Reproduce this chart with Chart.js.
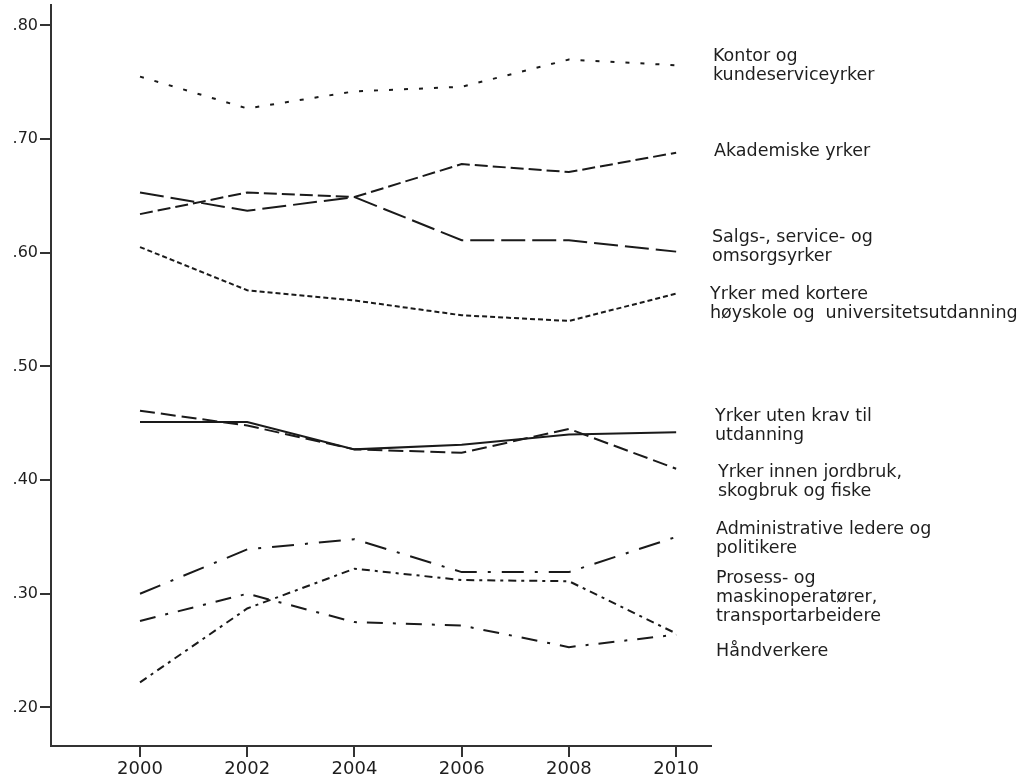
<!DOCTYPE html>
<html>
<head>
<meta charset="utf-8">
<script src="https://cdn.jsdelivr.net/npm/chart.js@4"></script>
<style>
    html, body { margin: 0; padding: 0; background: #fff; }
    #wrap { width: 1031px; height: 782px; position: relative; }
</style>
</head>
<body>
<div id="wrap"><canvas id="yrkeChart"></canvas></div>
<script>
// 数据
const years = [2000, 2002, 2004, 2006, 2008, 2010];
const xTicks = [2000, 2002, 2004, 2006, 2008, 2010];
const yTicks = [0.2, 0.3, 0.4, 0.5, 0.6, 0.7, 0.8];

const kontor = [0.755, 0.727, 0.742, 0.746, 0.770, 0.765];
const akademiske = [0.634, 0.653, 0.649, 0.678, 0.671, 0.688];
const salgs = [0.653, 0.637, 0.649, 0.611, 0.611, 0.601];
const kortere = [0.605, 0.567, 0.558, 0.545, 0.540, 0.564];
const utenKrav = [0.451, 0.451, 0.427, 0.431, 0.440, 0.442];
const jordbruk = [0.461, 0.448, 0.427, 0.424, 0.445, 0.410];
const administrative = [0.300, 0.339, 0.348, 0.319, 0.319, 0.350];
const prosess = [0.222, 0.287, 0.322, 0.312, 0.311, 0.265];
const handverkere = [0.276, 0.300, 0.275, 0.272, 0.253, 0.264];

const seriesNames = [
    ["Kontor og", "kundeserviceyrker"],
    ["Akademiske yrker"],
    ["Salgs-, service- og", "omsorgsyrker"],
    ["Yrker med kortere", "høyskole og  universitetsutdanning"],
    ["Yrker uten krav til", "utdanning"],
    ["Yrker innen jordbruk,", "skogbruk og fiske"],
    ["Administrative ledere og", "politikere"],
    ["Prosess- og", "maskinoperatører,", "transportarbeidere"],
    ["Håndverkere"]
];
const seriesValues = [kontor, akademiske, salgs, kortere, utenKrav, jordbruk, administrative, prosess, handverkere];

// 线型
const dashes = [
    [4, 11],
    [13, 5],
    [24, 7],
    [5, 3],
    [],
    [15, 6],
    [22, 11, 3, 11],
    [8, 5, 3, 5],
    [16, 10, 3, 10]
];

// 标签位置（y轴数值）
const labelAnchor = [0.764, 0.689, 0.605, 0.555, 0.448, 0.398, 0.348, 0.297, 0.249];
const labelX = [713, 714, 712, 710, 715, 718, 716, 716, 716];

const lineColor = "#1a1a1a";
const axisColor = "#333";
const textColor = "#1e1e1e";

const endLabels = {
    id: "endLabels",
    afterDatasetsDraw(chart) {
        const ctx = chart.ctx;
        const y = chart.scales.y;
        ctx.save();
        ctx.font = "17.5px 'DejaVu Sans'";
        ctx.fillStyle = textColor;
        ctx.textBaseline = "middle";
        ctx.textAlign = "left";
        const lh = 19;
        seriesNames.forEach((lines, i) => {
            const cy = y.getPixelForValue(labelAnchor[i]);
            const top = cy - (lines.length - 1) * lh / 2;
            lines.forEach((t, j) => ctx.fillText(t, labelX[i], top + j * lh));
        });
        ctx.restore();
    }
};

const datasets = seriesValues.map((vals, i) => ({
    label: seriesNames[i].join(" "),
    data: years.map((yr, k) => ({ x: yr, y: vals[k] })),
    borderColor: lineColor,
    borderWidth: 2,
    borderDash: dashes[i],
    pointRadius: 0,
    tension: 0,
    fill: false
}));

new Chart(document.getElementById("yrkeChart"), {
    type: "line",
    data: { datasets: datasets },
    options: {
        responsive: true,
        maintainAspectRatio: false,
        animation: false,
        layout: { padding: { top: 5, right: 320, left: 0, bottom: 0 } },
        plugins: {
            legend: { display: false },
            tooltip: { enabled: false }
        },
        scales: {
            x: {
                type: "linear",
                min: 1998.34,
                max: 2010.65,
                afterBuildTicks: s => { s.ticks = xTicks.map(v => ({ value: v })); },
                afterFit: s => { s.height = 36; s.paddingLeft = 0; s.paddingRight = 0; },
                border: { display: true, color: axisColor, width: 2 },
                grid: { drawOnChartArea: false, drawTicks: true, tickLength: 11, color: axisColor, lineWidth: 2 },
                ticks: {
                    color: textColor,
                    padding: 2,
                    maxRotation: 0,
                    font: { family: "DejaVu Sans", size: 18 },
                    callback: v => String(v)
                }
            },
            y: {
                type: "linear",
                min: 0.166,
                max: 0.818,
                afterBuildTicks: s => { s.ticks = yTicks.map(v => ({ value: v })); },
                afterFit: s => { s.width = 51; s.paddingTop = 0; s.paddingBottom = 0; },
                border: { display: true, color: axisColor, width: 2 },
                grid: { drawOnChartArea: false, drawTicks: true, tickLength: 11, color: axisColor, lineWidth: 2 },
                ticks: {
                    color: textColor,
                    padding: 2,
                    font: { family: "DejaVu Sans", size: 16 },
                    callback: v => "." + String(Math.round(v * 100))
                }
            }
        }
    },
    plugins: [endLabels]
});
</script>
</body>
</html>
